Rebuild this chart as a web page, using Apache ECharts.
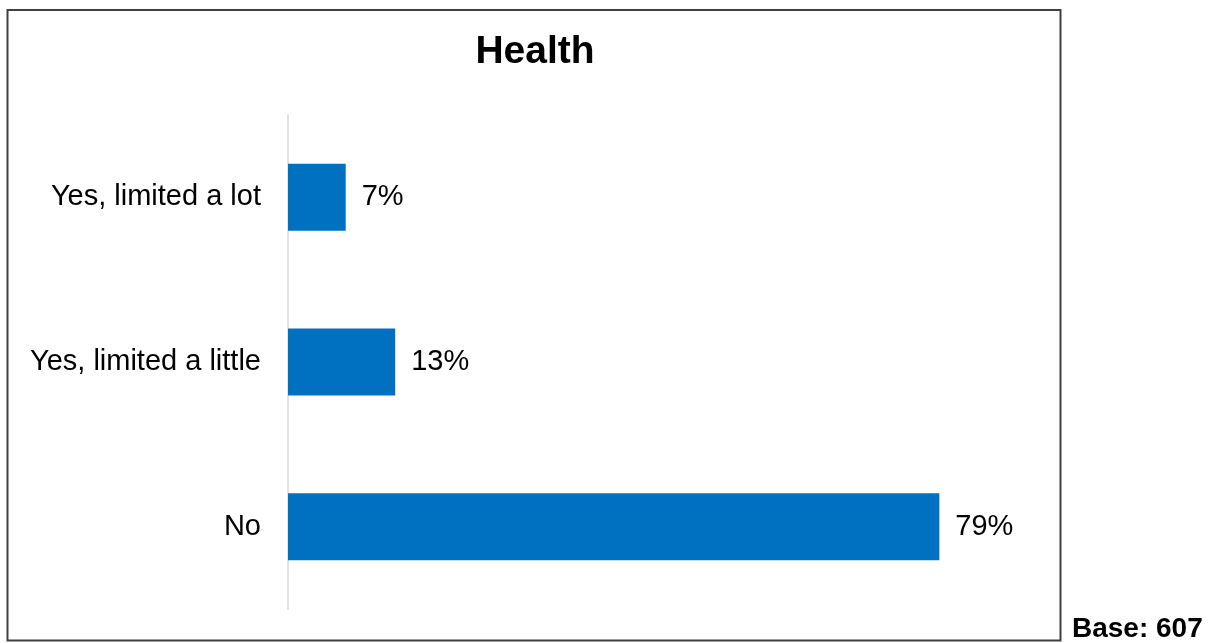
<!DOCTYPE html>
<html>
<head>
<meta charset="utf-8">
<title>Health</title>
<script src="https://cdn.jsdelivr.net/npm/echarts@6/dist/echarts.min.js"></script>
<style>
  html, body { margin: 0; padding: 0; background: #ffffff; }
  #chart { width: 1215px; height: 643px; }
</style>
</head>
<body>
<div id="chart"></div>
<script>
// Survey answers, top to bottom
const categories = ['Yes, limited a lot', 'Yes, limited a little', 'No'];
// Share of respondents (%)
const values = [7, 13, 79];
const chartTitle = 'Health';
const baseNote = 'Base: 607';

const FONT = '"Liberation Sans", Arial, sans-serif';

const chart = echarts.init(document.getElementById('chart'), null, { renderer: 'canvas' });

chart.setOption({
  backgroundColor: '#ffffff',
  animation: false,
  grid: { left: 288, top: 115, width: 824.5, bottom: 34, containLabel: false },
  xAxis: {
    type: 'value',
    min: 0,
    max: 100,
    show: false
  },
  yAxis: {
    type: 'category',
    data: categories,
    inverse: true,
    axisLine: { show: true, lineStyle: { color: '#d9d9d9', width: 1.5 } },
    axisTick: { show: false },
    splitLine: { show: false },
    axisLabel: {
      margin: 27,
      color: '#000000',
      fontFamily: FONT,
      fontSize: 29
    }
  },
  series: [{
    type: 'bar',
    data: values,
    barWidth: 67,
    itemStyle: { color: '#0070C0' },
    label: {
      show: true,
      position: 'right',
      distance: 16,
      formatter: '{c}%',
      color: '#000000',
      fontFamily: FONT,
      fontSize: 29
    }
  }],
  graphic: [
    {
      type: 'rect',
      silent: true,
      shape: { x: 7.5, y: 10, width: 1053, height: 630.5 },
      style: { fill: 'none', stroke: '#404040', lineWidth: 2 }
    },
    {
      type: 'text',
      silent: true,
      x: 535,
      y: 52,
      style: {
        text: chartTitle,
        fill: '#000000',
        font: 'bold 39px ' + FONT,
        textAlign: 'center',
        textVerticalAlign: 'middle'
      }
    },
    {
      type: 'text',
      silent: true,
      x: 1072,
      y: 629,
      style: {
        text: baseNote,
        fill: '#000000',
        font: 'bold 28px ' + FONT,
        textAlign: 'left',
        textVerticalAlign: 'middle'
      }
    }
  ]
});
</script>
</body>
</html>
